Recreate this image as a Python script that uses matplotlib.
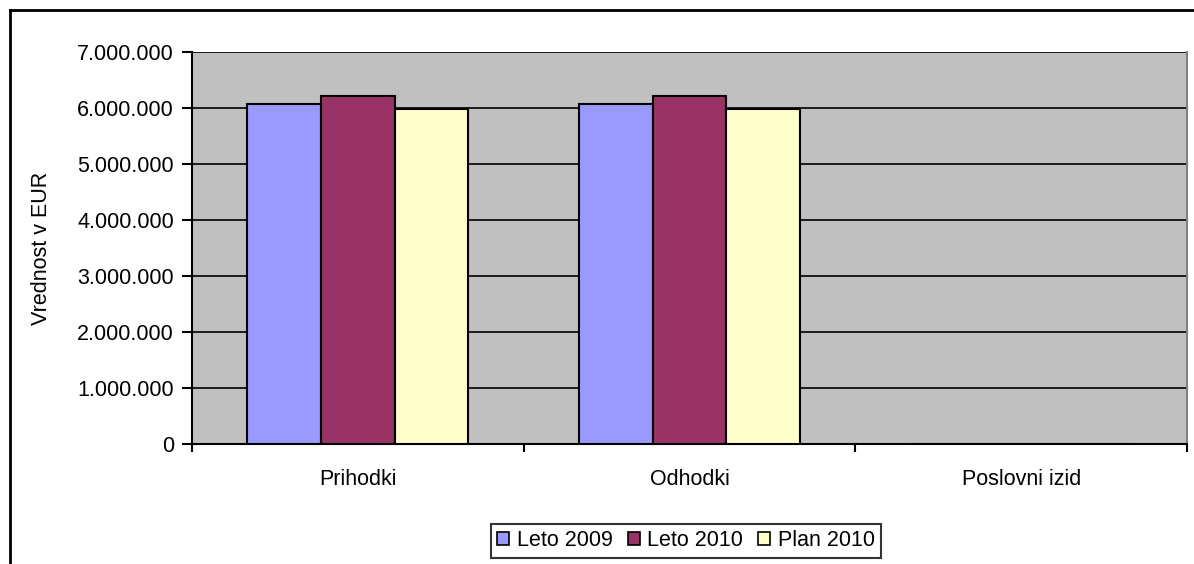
import matplotlib.pyplot as plt
import numpy as np
from matplotlib.ticker import FuncFormatter
from matplotlib.lines import Line2D

plt.rcParams['font.family'] = ['Liberation Sans', 'DejaVu Sans']

categories = ['Prihodki', 'Odhodki', 'Poslovni izid']
series = ['Leto 2009', 'Leto 2010', 'Plan 2010']
leto_2009 = [6070000, 6070000, 0]
leto_2010 = [6210000, 6210000, 0]
plan_2010 = [5990000, 5990000, 0]
colors = ['#9999FF', '#993366', '#FFFFCC']

fig = plt.figure(figsize=(11.94, 5.64), dpi=100)
ax = fig.add_axes([192 / 1194, 1 - 444 / 564, (1187 - 192) / 1194, (444 - 52) / 564])
ax.set_facecolor('#C0C0C0')

x = np.arange(len(categories))
w = 0.222
for i, (vals, name) in enumerate(zip([leto_2009, leto_2010, plan_2010], series)):
    ax.bar(x + (i - 1) * w, vals, w, color=colors[i], edgecolor='black',
           linewidth=1.5, label=name, zorder=3)

ax.set_xlim(-0.5, 2.5)
ax.set_ylim(0, 7000000)
ax.set_yticks(np.arange(0, 7000001, 1000000))
ax.yaxis.set_major_formatter(FuncFormatter(lambda v, p: f'{int(v):,}'.replace(',', '.')))
ax.yaxis.grid(True, color='black', linewidth=1.2, zorder=1)
ax.set_axisbelow(True)

# kategorije sredi, kljukice na mejah
ax.set_xticks(x)
ax.set_xticklabels(categories)
ax.set_xticks(np.arange(-0.5, 2.6, 1), minor=True)
ax.tick_params(axis='x', which='major', length=0, pad=18, labelsize=15.5)
ax.tick_params(axis='x', which='minor', length=6, width=1.5, direction='out')
ax.tick_params(axis='y', length=7, width=1.5, direction='out', labelsize=15.5, pad=6)

for s in ['left', 'bottom']:
    ax.spines[s].set_color('black')
    ax.spines[s].set_linewidth(1.5)
ax.spines['top'].set_visible(False)
ax.spines['right'].set_color('#808080')
ax.spines['right'].set_linewidth(1.5)

ax.set_ylabel('Vrednost v EUR', fontsize=15.5)
ax.yaxis.set_label_coords((52 - 192) / 995, 0.5)

leg = fig.legend(loc='center', bbox_to_anchor=(686 / 1194, 1 - 541 / 564), ncol=3,
                 fontsize=15.5, frameon=True, fancybox=False, edgecolor='black',
                 handlelength=0.55, handleheight=0.55, handletextpad=0.35,
                 columnspacing=0.7, borderpad=0.3)
leg.get_frame().set_linewidth(1.5)
for h in leg.legend_handles:
    h.set_linewidth(1.2)

# okvir grafikona
fig.add_artist(Line2D([10 / 1194, 1], [1 - 10 / 564, 1 - 10 / 564], color='black', linewidth=2))
fig.add_artist(Line2D([10 / 1194, 10 / 1194], [0, 1 - 10 / 564], color='black', linewidth=2))

fig.savefig('out.png', dpi=100)
